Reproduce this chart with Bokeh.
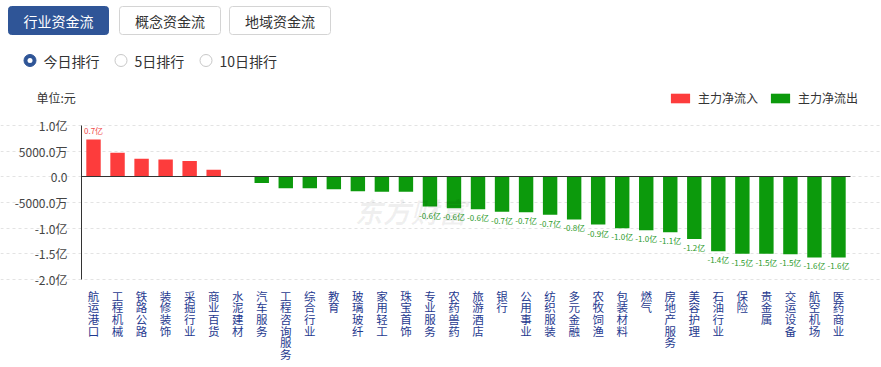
from bokeh.plotting import figure
from bokeh.models import (ColumnDataSource, FixedTicker, Label, BoxAnnotation, Legend,
                          LegendItem, Range1d, LinearAxis, Grid)
from bokeh.embed import file_html
from bokeh.resources import INLINE
from bokeh.core.properties import value

# ---------------- data ----------------
categories = ["航运港口", "工程机械", "铁路公路", "装修装饰", "采掘行业", "商业百货", "水泥建材",
              "汽车服务", "工程咨询服务", "综合行业", "教育", "玻璃玻纤", "家用轻工", "珠宝首饰",
              "专业服务", "农药兽药", "旅游酒店", "银行", "公用事业", "纺织服装", "多元金融",
              "农牧饲渔", "包装材料", "燃气", "房地产服务", "美容护理", "石油行业", "保险",
              "贵金属", "交运设备", "航空机场", "医药商业"]
# main net flow, unit: 万元
flows = [7250, 4700, 3500, 3400, 3100, 1400, 60, -1200, -2200, -2200, -2400, -2800, -2900,
         -2900, -5800, -6100, -6300, -6800, -6900, -7400, -8300, -9300, -10000, -10400,
         -10800, -12100, -14500, -15000, -15000, -15100, -15700, -15700]

tick_values = [10000, 5000, 0, -5000, -10000, -15000, -20000]
tick_labels = ["1.0亿", "5000.0万", "0.0", "-5000.0万", "-1.0亿", "-1.5亿", "-2.0亿"]

tabs = ["行业资金流", "概念资金流", "地域资金流"]
periods = ["今日排行", "5日排行", "10日排行"]
series_names = ["主力净流入", "主力净流出"]
unit_text = "单位:元"
label_threshold = 5000

# ---------------- style / layout ----------------
FONT = "Noto Sans CJK SC"
RED = "#fd3c3c"
GREEN = "#0c9a0c"
BLUE = "#2f5597"
W, H = 881, 367
C_LEFT, C_RIGHT, C_TOP, C_BOTTOM = 81, 850, 125, 279   # chart area in page pixels
Y_MIN, Y_MAX = -20000, 10000
NCAT = len(categories)


def X(px):  # page pixel -> x data coordinate (category i is centred at i + 0.5)
    return (px - C_LEFT) * NCAT / (C_RIGHT - C_LEFT)


def Y(py):  # page pixel -> value coordinate
    return Y_MAX - (py - C_TOP) * (Y_MAX - Y_MIN) / (C_BOTTOM - C_TOP)


p = figure(width=W, height=H, x_range=Range1d(X(0), X(W)), y_range=Range1d(Y(H), Y(0)),
           x_axis_type=None, y_axis_type=None, toolbar_location=None,
           output_backend="svg", min_border=0)
p.outline_line_color = None

xpos = [i + 0.5 for i in range(NCAT)]

# grid (horizontal dashed lines) limited to the chart area
p.add_layout(Grid(dimension=1, ticker=FixedTicker(ticks=tick_values), bounds=(0, NCAT),
                  grid_line_color="#e3e3e3", grid_line_dash="3 3"))

pos = [(x, v) for x, v in zip(xpos, flows) if v >= 0]
neg = [(x, v) for x, v in zip(xpos, flows) if v < 0]
src_in = ColumnDataSource(dict(x=[x for x, _ in pos], top=[v for _, v in pos]))
src_out = ColumnDataSource(dict(x=[x for x, _ in neg], top=[v for _, v in neg]))
r_in = p.vbar(x="x", top="top", bottom=0, width=0.6, source=src_in,
              fill_color=RED, line_color=None)
r_out = p.vbar(x="x", top="top", bottom=0, width=0.6, source=src_out,
               fill_color=GREEN, line_color=None)

# value labels for large flows
lab_in = [(x, v) for x, v in pos if abs(v) >= label_threshold]
lab_out = [(x, v) for x, v in neg if abs(v) >= label_threshold]
p.text(x=[x for x, _ in lab_in], y=[v for _, v in lab_in],
       text=[f"{v / 10000:.1f}亿" for _, v in lab_in], text_align="center",
       text_baseline="bottom", y_offset=-4, text_font=value(FONT), text_font_size="8px",
       text_color="#f04a4a")
p.text(x=[x for x, _ in lab_out], y=[v for _, v in lab_out],
       text=[f"{v / 10000:.1f}亿" for _, v in lab_out], text_align="center",
       text_baseline="top", y_offset=3, text_font=value(FONT), text_font_size="8px",
       text_color="#2a9a2a")

# y axis pinned at the left edge of the chart area
yaxis = LinearAxis(fixed_location=0, bounds=(Y_MIN, Y_MAX),
                   ticker=FixedTicker(ticks=tick_values),
                   major_label_overrides=dict(zip(tick_values, tick_labels)),
                   axis_line_color="#333333", major_tick_line_color=None,
                   minor_tick_line_color=None, major_label_standoff=8,
                   major_label_text_font=FONT, major_label_text_font_size="12px",
                   major_label_text_color="#444444")
p.add_layout(yaxis, "left")

# zero line (category axis line)
zaxis = LinearAxis(fixed_location=0, bounds=(0, NCAT), ticker=FixedTicker(ticks=[]),
                   axis_line_color="#333333", major_tick_line_color=None,
                   minor_tick_line_color=None)
p.add_layout(zaxis, "below")

# category labels under the chart, characters stacked vertically
xaxis = LinearAxis(fixed_location=Y_MIN, bounds=(0, NCAT), ticker=FixedTicker(ticks=xpos),
                   major_label_overrides={x: "\n".join(c) for x, c in zip(xpos, categories)},
                   axis_line_color=None, major_tick_line_color=None,
                   minor_tick_line_color=None, major_label_standoff=2,
                   major_label_text_font=FONT, major_label_text_font_size="11.5px",
                   major_label_text_line_height=0.73, major_label_text_color="#1f3a8f")
p.add_layout(xaxis, "below")

# legend
legend = Legend(items=[LegendItem(label=series_names[0], renderers=[r_in]),
                       LegendItem(label=series_names[1], renderers=[r_out])],
                orientation="horizontal", location=(668, 261),
                glyph_width=24, glyph_height=12, label_text_font=FONT,
                label_text_font_size="12px", label_text_color="#333333",
                label_standoff=6, spacing=10, padding=0, margin=0,
                border_line_color=None, background_fill_alpha=0, label_height=12)
p.add_layout(legend)

# ---------------- controls above the chart ----------------
tab_left = [8, 119, 229]
tab_right = [108, 220, 330]
tab_top, tab_bottom = 6, 34
for i, t in enumerate(tabs):
    sel = i == 0
    p.add_layout(BoxAnnotation(left=X(tab_left[i]), right=X(tab_right[i]),
                               top=Y(tab_top), bottom=Y(tab_bottom),
                               fill_color=BLUE if sel else "white", fill_alpha=1,
                               line_color=BLUE if sel else "#d4d4d4", line_alpha=1,
                               line_width=1, border_radius=3, level="underlay"))
p.text(x=[X((l + r) / 2) for l, r in zip(tab_left, tab_right)], y=[Y(20)] * 3, text=tabs,
       text_align="center", text_baseline="middle", text_font=value(FONT),
       text_font_size="14px", text_color=["white", "#333333", "#333333"])

radio_cx = [29.5, 120.5, 205.5]
radio_text_x = [43, 134, 219]
radio_y = 60
p.scatter(x=[X(c) for c in radio_cx], y=[Y(radio_y)] * 3, marker="circle", size=12,
          fill_color=[BLUE, "white", "white"], line_color=[BLUE, "#c8c8c8", "#c8c8c8"])
p.scatter(x=[X(radio_cx[0])], y=[Y(radio_y)], marker="circle", size=5,
          fill_color="white", line_color=None)
p.text(x=[X(c) for c in radio_text_x], y=[Y(radio_y)] * 3, text=periods, text_align="left",
       text_baseline="middle", text_font=value(FONT), text_font_size="14px",
       text_color="#333333")

p.text(x=[X(36)], y=[Y(97)], text=[unit_text], text_align="left", text_baseline="middle",
       text_font=value(FONT), text_font_size="12px", text_color="#333333")
p.add_layout(Label(x=X(410), y=Y(210), text="东方财富", text_font=FONT,
                   text_font_size="28px", text_font_style="bold italic",
                   text_color="#000000", text_alpha=0.06,
                   text_align="center", text_baseline="middle"))

open("out.html", "w").write(file_html(p, INLINE))
